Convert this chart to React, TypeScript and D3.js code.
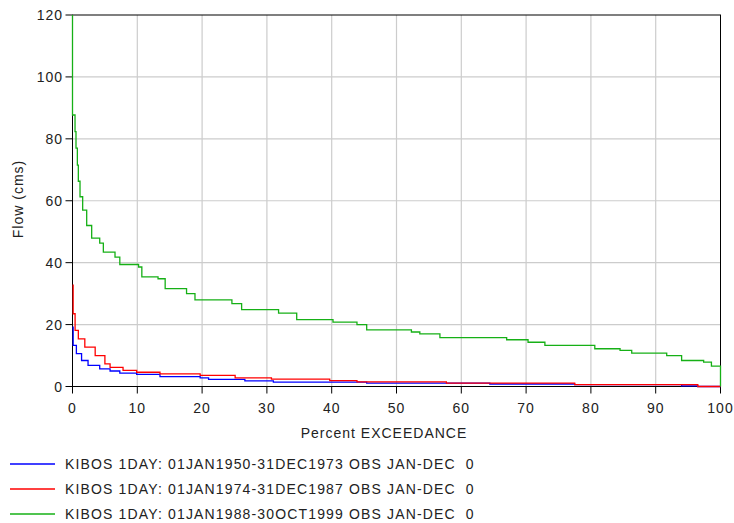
import React from 'react';
import * as d3 from 'd3';

// flow duration steps: percent exceedance / flow (cms)
const bluePct = [0, 0.1, 0.6, 1.4, 2.4, 4.2, 5.8, 7.3, 9.9, 13.5, 19.7, 21, 26.6, 31, 45.4, 64.4, 77.5, 94, 96.5, 100];
const blueFlow = [19.2, 13.3, 10.6, 8.4, 6.8, 5.7, 5.0, 4.3, 3.9, 3.2, 2.8, 2.3, 1.8, 1.4, 1.1, 0.8, 0.6, 0.2, 0, 0];

const redPct = [0, 0.1, 0.4, 0.9, 1.9, 3.5, 5, 5.8, 7.8, 9.9, 13.5, 19.7, 25.1, 30.7, 39.7, 43.9, 57.7, 77.5, 96.5, 100];
const redFlow = [32.7, 23.5, 18.1, 15.4, 12.7, 10, 7.3, 6.2, 5.2, 4.6, 4.1, 3.6, 2.8, 2.4, 1.9, 1.5, 1.1, 0.6, 0, 0];

const greenPct = [0, 0, 0.39, 0.54, 0.75, 0.9, 1.16, 1.57, 2.19, 2.96, 4.2, 4.76, 6.56, 7.3, 10.2, 10.7, 13.2, 14.3, 17.6, 18.9,
  24.6, 26.1, 31.8, 34.6, 40.2, 43.9, 45.4, 52.3, 53.6, 56.7, 67, 70.3, 72.9, 80.6, 84.5, 86.3, 91.7, 94, 97.4, 98.6, 100];
const greenFlow = [120, 87.7, 82.3, 77, 71.5, 66.3, 61.3, 57, 52, 47.9, 46.3, 43.4, 41.8, 39.4, 38.6, 35.4, 34.8, 31.6, 30, 28,
  26.8, 24.8, 23.7, 21.6, 20.8, 20, 18.3, 17.6, 17, 15.8, 15.1, 14.3, 13.3, 12.2, 11.7, 10.8, 10, 8.4, 7.9, 6.6, 0];

const xTicks = [0, 10, 20, 30, 40, 50, 60, 70, 80, 90, 100];
const yTicks = [0, 20, 40, 60, 80, 100, 120];

const seriesNames = [
  'KIBOS 1DAY: 01JAN1950-31DEC1973 OBS JAN-DEC  0',
  'KIBOS 1DAY: 01JAN1974-31DEC1987 OBS JAN-DEC  0',
  'KIBOS 1DAY: 01JAN1988-30OCT1999 OBS JAN-DEC  0',
];
const colors = ['#0000ff', '#ff0000', '#16b016'];

const font = '"Liberation Sans", Arial, sans-serif';

export default function App() {
  const x = d3.scaleLinear().domain([0, 100]).range([72.5, 720.5]);
  const y = d3.scaleLinear().domain([0, 120]).range([386.5, 15]);

  const line = d3.line<[number, number]>()
    .x(d => x(d[0]))
    .y(d => y(d[1]))
    .curve(d3.curveStepAfter);

  const series = [
    d3.zip(bluePct, blueFlow) as [number, number][],
    d3.zip(redPct, redFlow) as [number, number][],
    d3.zip(greenPct, greenFlow) as [number, number][],
  ];

  const textStyle = { fontFamily: font, fontSize: 14, letterSpacing: 1, fill: '#222' };

  return (
    <svg width={734} height={523} style={{ position: 'absolute', left: 0, top: 0, background: '#fff' }}>
      {/* grid */}
      {xTicks.slice(1, -1).map(t => (
        <line key={'gx' + t} x1={x(t)} x2={x(t)} y1={y(120)} y2={y(0)} stroke="#cccccc" strokeWidth={1.2} />
      ))}
      {yTicks.slice(1, -1).map(t => (
        <line key={'gy' + t} x1={x(0)} x2={x(100)} y1={y(t)} y2={y(t)} stroke="#cccccc" strokeWidth={1.2} />
      ))}

      {/* frame */}
      <rect x={x(0)} y={y(120)} width={x(100) - x(0)} height={y(0) - y(120)} fill="none" stroke="#000" strokeWidth={1} />

      {/* ticks */}
      {xTicks.map(t => (
        <g key={'tx' + t}>
          <line x1={x(t)} x2={x(t)} y1={y(0)} y2={y(0) + 7} stroke="#000" />
          <text x={x(t)} y={413} textAnchor="middle" style={textStyle}>{t}</text>
        </g>
      ))}
      {yTicks.map(t => (
        <g key={'ty' + t}>
          <line x1={x(0) - 7} x2={x(0)} y1={y(t)} y2={y(t)} stroke="#000" />
          <text x={63} y={y(t) + 5} textAnchor="end" style={textStyle}>{t}</text>
        </g>
      ))}

      {/* axis titles */}
      <text x={384} y={438} textAnchor="middle" style={textStyle}>Percent EXCEEDANCE</text>
      <text transform="translate(23,199) rotate(-90)" textAnchor="middle" style={textStyle}>Flow (cms)</text>

      {/* series */}
      {series.map((s, i) => (
        <path key={'s' + i} d={line(s) || ''} fill="none" stroke={colors[i]} strokeWidth={1.3} />
      ))}

      {/* legend */}
      {seriesNames.map((name, i) => (
        <g key={'lg' + i} transform={`translate(0,${464 + i * 25})`}>
          <line x1={10} x2={55} y1={0} y2={0} stroke={colors[i]} strokeWidth={1.3} />
          <text x={65} y={5} style={{ ...textStyle, letterSpacing: 1.15, whiteSpace: 'pre' }}>{name}</text>
        </g>
      ))}
    </svg>
  );
}
